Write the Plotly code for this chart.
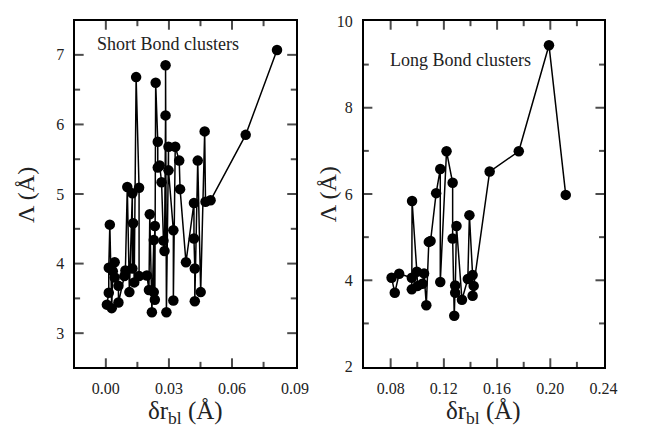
import plotly.graph_objects as go
from plotly.subplots import make_subplots

# Short bond clusters: bond-length spread (Å) vs. Λ (Å)
short_dr = [0.0005, 0.0014, 0.0014, 0.0019, 0.0028, 0.0033, 0.0042, 0.0042, 0.0060, 0.0060,
            0.0088, 0.0093, 0.0102, 0.0112, 0.0126, 0.0126, 0.0130, 0.0135, 0.0144, 0.0158,
            0.0158, 0.0195, 0.0205, 0.0209, 0.0219, 0.0228, 0.0228, 0.0233, 0.0233, 0.0237,
            0.0247, 0.0247, 0.0256, 0.0265, 0.0274, 0.0279, 0.0284, 0.0284, 0.0288, 0.0298,
            0.0298, 0.0321, 0.0321, 0.0330, 0.0349, 0.0353, 0.0381, 0.0419, 0.0419, 0.0423,
            0.0423, 0.0437, 0.0451, 0.0470, 0.0474, 0.0498, 0.0665, 0.0814]
short_lam = [3.41, 3.58, 3.94, 4.56, 3.36, 3.89, 4.02, 3.80, 3.68, 3.44,
             3.82, 3.90, 5.10, 3.59, 5.01, 3.93, 4.58, 3.73, 6.68, 5.09,
             3.82, 3.83, 3.62, 4.71, 3.30, 4.34, 3.59, 4.54, 3.48, 6.60,
             5.75, 5.38, 5.41, 5.17, 4.33, 4.18, 6.13, 6.85, 3.30, 5.68,
             5.34, 4.48, 3.47, 5.68, 5.48, 5.07, 4.02, 4.87, 4.36, 3.93,
             3.46, 5.48, 3.59, 5.90, 4.89, 4.91, 5.85, 7.07]

# Long bond clusters
long_dr = [0.0807, 0.0831, 0.0864, 0.0959, 0.0959, 0.0961, 0.0997, 0.1003, 0.1039, 0.1051,
           0.1068, 0.1087, 0.1100, 0.1142, 0.1173, 0.1173, 0.1220, 0.1266, 0.1266, 0.1278,
           0.1285, 0.1285, 0.1295, 0.1336, 0.1380, 0.1392, 0.1416, 0.1424, 0.1416, 0.1544,
           0.1763, 0.1990, 0.2116]
long_lam = [4.06, 3.71, 4.15, 4.06, 3.79, 5.84, 4.20, 3.87, 3.92, 4.16,
            3.42, 4.89, 4.91, 6.02, 6.58, 3.96, 6.99, 6.26, 4.97, 3.18,
            3.88, 3.71, 5.26, 3.55, 4.03, 5.51, 4.12, 3.87, 3.64, 6.52,
            6.99, 9.45, 5.98]

short_xticks = [0.00, 0.03, 0.06, 0.09]
long_xticks = [0.08, 0.12, 0.16, 0.20, 0.24]
short_yticks = [3, 4, 5, 6, 7]
long_yticks = [2, 4, 6, 8, 10]

FONT = "Liberation Serif"
INK = "#222"

W, H = 653, 439
X_DOM = [[0.1179, 0.4625], [0.5697, 0.9449]]
Y_DOM = [0.1503, 0.9681]
X_RANGE = [[-0.0145, 0.0902], [0.06, 0.2402]]
Y_RANGE = [[2.52, 7.48], [2, 10]]
MAJOR_LEN, MINOR_LEN = 7, 4

fig = make_subplots(rows=1, cols=2)


def add_series(x, y, col):
    pts = sorted(zip(x, y), key=lambda p: p[0])
    fig.add_trace(go.Scatter(
        x=[p[0] for p in pts], y=[p[1] for p in pts],
        mode="lines+markers",
        line=dict(color="black", width=1.5),
        marker=dict(color="black", size=10.5),
        showlegend=False,
    ), row=1, col=col)


add_series(short_dr, short_lam, 1)
add_series(long_dr, long_lam, 2)


def tick_positions(ticks, rng):
    """Major ticks plus one minor tick halfway between majors, kept strictly inside the range."""
    step = ticks[1] - ticks[0]
    lo, hi = rng
    eps = step * 0.02
    major = [t for t in ticks if lo + eps < t < hi - eps]
    minor = []
    t = ticks[0] - step / 2
    while t < hi:
        if lo + eps < t < hi - eps and all(abs(t - m) > eps for m in ticks):
            minor.append(t)
        t += step / 2
    return major, minor


def add_inside_ticks(col, xticks, yticks):
    """Inward tick marks on all four sides of a panel, drawn as line-shaped markers."""
    xr, yr = X_RANGE[col - 1], Y_RANGE[col - 1]
    pw = (X_DOM[col - 1][1] - X_DOM[col - 1][0]) * W
    ph = (Y_DOM[1] - Y_DOM[0]) * H
    x_per_px = (xr[1] - xr[0]) / pw
    y_per_px = (yr[1] - yr[0]) / ph

    vx, vy, vs = [], [], []
    xmaj, xmin = tick_positions(xticks, xr)
    for vals, ln in ((xmaj, MAJOR_LEN), (xmin, MINOR_LEN)):
        d = ln / 2 * y_per_px
        for v in vals:
            vx += [v, v]
            vy += [yr[0] + d, yr[1] - d]
            vs += [ln, ln]

    hx, hy, hs = [], [], []
    ymaj, ymin = tick_positions(yticks, yr)
    for vals, ln in ((ymaj, MAJOR_LEN), (ymin, MINOR_LEN)):
        d = ln / 2 * x_per_px
        for v in vals:
            hx += [xr[0] + d, xr[1] - d]
            hy += [v, v]
            hs += [ln, ln]

    for x, y, s, sym in ((vx, vy, vs, "line-ns"), (hx, hy, hs, "line-ew")):
        fig.add_trace(go.Scatter(
            x=x, y=y, mode="markers",
            marker=dict(symbol=sym, size=s, color="black", line=dict(color="black", width=2)),
            hoverinfo="skip", showlegend=False, cliponaxis=False,
        ), row=1, col=col)


add_inside_ticks(1, short_xticks, short_yticks)
add_inside_ticks(2, long_xticks, long_yticks)

axis_common = dict(
    showline=True, linecolor="black", linewidth=2, mirror=True,
    ticks="", showgrid=False, zeroline=False, ticklabelstandoff=6,
    tickfont=dict(family=FONT, size=16, color=INK),
)

fig.update_xaxes(axis_common, row=1, col=1, domain=X_DOM[0], range=X_RANGE[0],
                 tickvals=short_xticks, ticktext=[f"{v:.2f}" for v in short_xticks])
fig.update_xaxes(axis_common, row=1, col=2, domain=X_DOM[1], range=X_RANGE[1],
                 tickvals=long_xticks, ticktext=[f"{v:.2f}" for v in long_xticks])
fig.update_yaxes(axis_common, row=1, col=1, domain=Y_DOM, range=Y_RANGE[0],
                 tickvals=short_yticks, ticktext=[str(v) for v in short_yticks])
fig.update_yaxes(axis_common, row=1, col=2, domain=Y_DOM, range=Y_RANGE[1],
                 tickvals=long_yticks, ticktext=[str(v) for v in long_yticks])

# Axis titles
for cx in (189.5 / W, 494.5 / W):
    fig.add_annotation(text="δr<sub>bl</sub> (Å)", xref="paper", yref="paper",
                       x=cx, y=1 - 421 / H, xanchor="center", yanchor="middle", showarrow=False,
                       font=dict(family=FONT, size=25, color=INK))
for cx in (27 / W, 336 / W):
    fig.add_annotation(text="Λ (Å)", xref="paper", yref="paper", textangle=-90,
                       x=cx, y=1 - 194 / H, xanchor="center", yanchor="middle", showarrow=False,
                       font=dict(family=FONT, size=24, color=INK))

# Panel labels
fig.add_annotation(text="Short Bond clusters", xref="x domain", yref="y domain",
                   x=0.09, y=0.935, xanchor="left", yanchor="middle", showarrow=False,
                   font=dict(family=FONT, size=18, color=INK))
fig.add_annotation(text="Long Bond clusters", xref="x2 domain", yref="y2 domain",
                   x=0.1, y=0.888, xanchor="left", yanchor="middle", showarrow=False,
                   font=dict(family=FONT, size=18, color=INK))

fig.update_layout(
    width=W, height=H,
    margin=dict(l=0, r=0, t=0, b=0),
    paper_bgcolor="white", plot_bgcolor="white",
)

fig.write_html("out.html")
